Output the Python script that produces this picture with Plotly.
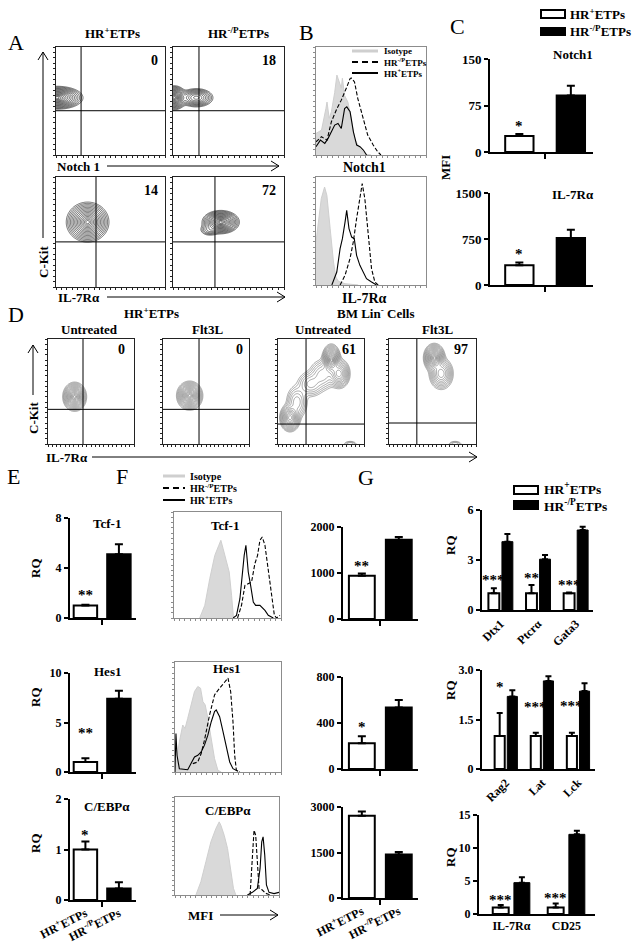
import numpy as np
import plotly.graph_objects as go

W, H = 641, 946
SERIF = "Liberation Serif, Times New Roman, serif"

# ======================= DATA =======================
# Panel C (MFI)
c_notch1 = [26, 91]
c_notch1_err = [3, 16]
c_il7r = [320, 765]
c_il7r_err = [45, 135]
# Panel E (RQ)
e_tcf1 = [1.0, 5.1]
e_tcf1_err = [0.05, 0.8]
e_hes1 = [1.0, 7.4]
e_hes1_err = [0.4, 0.8]
e_cebpa = [1.0, 0.23]
e_cebpa_err = [0.16, 0.12]
# Panel F bars (MFI)
f_tcf1 = [940, 1725]
f_tcf1_err = [50, 60]
f_hes1 = [223, 534]
f_hes1_err = [62, 66]
f_cebpa = [2710, 1430]
f_cebpa_err = [140, 85]
# Panel G (RQ)
g1_genes = ["Dtx1", "Ptcrα", "Gata3"]
g1_hr = [1.0, 1.0, 1.0]
g1_hr_err = [0.3, 0.5, 0.05]
g1_hrp = [4.1, 3.05, 4.8]
g1_hrp_err = [0.46, 0.25, 0.2]
g2_genes = ["Rag2", "Lat", "Lck"]
g2_hr = [1.0, 1.0, 1.0]
g2_hr_err = [0.7, 0.1, 0.1]
g2_hrp = [2.2, 2.67, 2.36]
g2_hrp_err = [0.19, 0.14, 0.24]
g3_genes = ["IL-7Rα", "CD25"]
g3_hr = [1.0, 1.0]
g3_hr_err = [0.36, 0.6]
g3_hrp = [4.75, 12.07]
g3_hrp_err = [0.8, 0.55]

group_labels = ["HR<sup>+</sup>ETPs", "HR<sup>-/P</sup>ETPs"]

# Flow cytometry populations: (centre x, centre y, sd x, sd y, weight) in % of axis
popsA = [
    [(1, 53, 8.5, 3.8, 1.0)],
    [(1, 53, 4.0, 4.0, 1.0), (21, 53, 6.0, 3.4, 0.45)],
    [(29, 59, 7.0, 6.5, 1.0)],
    [(43, 59, 6.0, 3.8, 1.0), (33, 52, 4.0, 2.5, 0.12)],
]
gatesA_x = [23, 23.4, 36.7, 37.8]
gatesA_y = [41, 41, 41, 41]
quadA = ["0", "18", "14", "72"]

popsD = [
    [(31, 45, 5.0, 5.0, 1.0)],
    [(31, 46, 5.5, 5.0, 1.0)],
    [(62, 80, 4.0, 5.5, 1.0), (71, 67, 5.0, 5.5, 0.6), (14, 25, 4.5, 5.0, 0.8),
     (22, 40, 5.5, 7.0, 0.22), (38, 57, 7.0, 5.5, 0.2), (52, 66, 7.0, 6.5, 0.22),
     (84, 0, 4.0, 1.5, 0.08)],
    [(52, 82, 4.5, 5.0, 1.0), (60, 67, 5.5, 6.0, 0.5), (76, 0, 4.0, 1.5, 0.08)],
]
gatesD_x = [40.7, 41.9, 32.6, 32.0]
gatesD_y = [33, 33, 19, 20]
quadD = ["0", "0", "61", "97"]

# Histograms (x: % of channel range, y: % of max)
bN_iso_x = [0, 5, 9, 10, 12, 14, 17, 19, 20, 22, 23, 24, 26, 29, 32, 35, 40, 43, 46, 50]
bN_iso_y = [20, 23, 43, 49, 34, 40, 58, 74, 71, 65, 62, 71, 55, 49, 34, 15, 6, 2.5, 0.6, 0]
bN_hr_x = [0, 4, 8, 11, 14, 17, 20, 23, 26, 28, 31, 34, 37, 40, 43, 46]
bN_hr_y = [7.7, 13.8, 10.8, 15.4, 21.5, 27.7, 29.2, 24.6, 43, 44.6, 40, 21.5, 9.2, 7.7, 4.6, 0]
bN_hrp_x = [0, 5, 10, 14, 19, 23, 28, 31, 32, 35, 38, 43, 47, 52, 56, 59]
bN_hrp_y = [12.3, 16.9, 13.8, 30.8, 43, 50.8, 63, 70.8, 71.4, 67.7, 52.3, 33.8, 18.5, 9.2, 3.1, 0]

bI_iso_x = [0, 2.4, 4.8, 7.8, 9.9, 12.9, 15.9, 18, 20.4, 26.4, 38.4]
bI_iso_y = [40, 58, 80, 90.7, 83, 52, 21.3, 7.4, 3.4, 1.2, 0]
bI_hr_x = [14.4, 18.9, 21.9, 24, 26.4, 27.9, 30, 32.4, 34.8, 36.9, 39.9, 42.9, 45.9, 50.5, 55]
bI_hr_y = [0, 12, 33.6, 42.9, 58.3, 69.1, 52.2, 44.4, 42.9, 27.5, 18.2, 12, 5.9, 2.8, 0]
bI_hrp_x = [21.9, 26.4, 30.9, 33.9, 36.9, 39.9, 42, 44.4, 47.4, 50.5, 53.5, 56.5]
bI_hrp_y = [0, 9, 24.4, 39.8, 61.4, 83, 93.8, 80, 46, 15, 2.8, 0]

fT_iso_x = [24, 28.8, 33.4, 38.1, 41.9, 43.8, 45.9, 49, 51.6, 53.8, 55.6]
fT_iso_y = [0, 12, 37, 59, 68.6, 73.3, 65.4, 54.4, 43.4, 21.4, 0]
fT_hr_x = [55.3, 58.4, 61.6, 63.8, 65.6, 67.2, 69.4, 71.6, 74.1, 76.3, 80.3, 85, 88.1, 92.8]
fT_hr_y = [0, 2.5, 18.2, 43.4, 59.1, 68.6, 43.4, 30.8, 15.1, 11.9, 11.9, 7.2, 2.5, 0]
fT_hrp_x = [59.4, 63.1, 66.3, 69.4, 72.5, 75.6, 78.1, 80.3, 82.5, 85, 88.1, 91.3, 93.8, 95.9, 99]
fT_hrp_y = [0, 12, 30.8, 32.4, 34, 51.3, 59.1, 73.3, 76.4, 68.6, 43.4, 18.2, 2.5, 0, 2.5]

fH_iso_x = [0, 2.5, 4.1, 7.3, 9.5, 12, 15.2, 18.4, 21.5, 24.1, 26.3, 28.5, 31, 34.2, 37.3, 40.5, 43.7]
fH_iso_y = [0, 18.3, 27.4, 42.7, 39.6, 48.8, 61, 73.2, 77.7, 76.2, 64, 61, 48.8, 30.5, 12.2, 1.5, 0]
fH_hr_x = [0, 0.9, 1.9, 4.1, 12, 15.2, 18.4, 21.5, 24.7, 27.8, 31, 34.2, 37.3, 38.9, 42.1, 45.3, 48.4, 51.6, 54.7, 59.5]
fH_hr_y = [0, 35, 15.2, 3, 2.1, 7.6, 13.7, 15.2, 18.3, 24.4, 33.5, 45.7, 54.9, 56.4, 50.3, 36.6, 24.4, 9.1, 3, 0.6]
fH_hrp_x = [16.8, 21.5, 24.7, 27.8, 32.6, 37.3, 42.1, 46.8, 50, 52.5, 54.7, 56.3, 57.9, 61.1]
fH_hrp_y = [7.6, 9.1, 16.8, 29, 51.8, 70.1, 76.2, 82.3, 85.4, 73.2, 45.7, 15.2, 1.5, 0]

fC_iso_x = [20.1, 24.9, 29.7, 34.5, 39.3, 42.5, 44.1, 47.3, 50.5, 53.7, 56.2, 58.5]
fC_iso_y = [0, 13.6, 33.9, 54.2, 67.8, 74.6, 71.2, 61, 47.5, 27.1, 6.8, 0]
fC_hrp_x = [72.2, 73.5, 74.8, 76, 77.6, 79.2, 80.8, 84, 87.2, 92]
fC_hrp_y = [0, 23.7, 54.2, 66.1, 61, 27.1, 6.8, 5.1, 1.7, 0]
fC_hr_x = [69.6, 74.4, 79.2, 81.8, 83.4, 84.7, 86.3, 87.9, 90.4, 95.2, 100]
fC_hr_y = [0, 2.7, 6.8, 27.1, 54.2, 59.3, 40.7, 10.2, 2.7, 1.4, 2.7]

# ======================= HELPERS =======================
def xd(x0, x1):
    return [x0 / W, x1 / W]

def yd(y0, y1):
    return [1 - y1 / H, 1 - y0 / H]

def px(x):
    return x / W

def py(y):
    return 1 - y / H

layout = {}
traces = []
shapes = []
annotations = []
axn = [0]

def make_axes(box, xr, yr, xkw=None, ykw=None):
    axn[0] += 1
    n = axn[0]
    s = "" if n == 1 else str(n)
    x0, y0, x1, y1 = box
    xa = dict(domain=xd(x0, x1), range=xr, anchor="y" + s, showgrid=False,
              zeroline=False, fixedrange=True, automargin=False)
    ya = dict(domain=yd(y0, y1), range=yr, anchor="x" + s, showgrid=False,
              zeroline=False, fixedrange=True, automargin=False)
    xa.update(xkw or {})
    ya.update(ykw or {})
    layout["xaxis" + s] = xa
    layout["yaxis" + s] = ya
    return "x" + s, "y" + s

def ann(text, x, y, size=13, bold=True, angle=0, xanchor="center", yanchor="middle",
        xref="paper", yref="paper", color="black"):
    if xref == "paper":
        x = px(x)
    if yref == "paper":
        y = py(y)
    annotations.append(dict(text=text, x=x, y=y, xref=xref, yref=yref, showarrow=False,
                            textangle=angle, xanchor=xanchor, yanchor=yanchor,
                            font=dict(family=SERIF, size=size, color=color,
                                      weight="bold" if bold else "normal")))

def pline(x0, y0, x1, y1, color="black", width=1, dash="solid"):
    shapes.append(dict(type="line", xref="paper", yref="paper", x0=px(x0), y0=py(y0),
                       x1=px(x1), y1=py(y1), line=dict(color=color, width=width, dash=dash)))

def harrow(x0, x1, y):
    pline(x0, y, x1, y)
    shapes.append(dict(type="path", xref="paper", yref="paper",
                       path=f"M {px(x1-8)},{py(y-5)} L {px(x1)},{py(y)} L {px(x1-8)},{py(y+5)}",
                       line=dict(color="black", width=1)))

def varrow(x, y0, y1):
    pline(x, y0, x, y1)
    shapes.append(dict(type="path", xref="paper", yref="paper",
                       path=f"M {px(x-5)},{py(y1+8)} L {px(x)},{py(y1)} L {px(x+5)},{py(y1+8)}",
                       line=dict(color="black", width=1)))

def flow_kw(color):
    return dict(showline=True, mirror=True, linecolor=color, linewidth=1, ticks="outside",
                ticklen=2, tickwidth=1, tickcolor=color, tickmode="array",
                tickvals=list(range(0, 101, 5)), showticklabels=False)

grid = np.linspace(0, 100, 161)

def contour_plot(box, pops, gx, gy, color, lw, qtext, qpos):
    xa, ya = make_axes(box, [0, 100], [0, 100], flow_kw("#222222"), flow_kw("#222222"))
    X, Y = np.meshgrid(grid, grid)
    Z = np.zeros_like(X)
    for cx, cy, sx, sy, w in pops:
        Z += w * np.exp(-((X - cx) ** 2 / (2 * sx ** 2) + (Y - cy) ** 2 / (2 * sy ** 2)))
    Z = np.sqrt(-np.log(Z / Z.max() + 1e-12))
    traces.append(go.Contour(x=grid, y=grid, z=Z, xaxis=xa, yaxis=ya, showscale=False,
                             contours=dict(start=0.16, end=2.1, size=0.13, coloring="lines"),
                             colorscale=[[0, color], [1, color]], line=dict(width=lw),
                             hoverinfo="skip"))
    shapes.append(dict(type="line", xref=xa, yref=ya, x0=gx, x1=gx, y0=0, y1=100,
                       line=dict(color="black", width=1)))
    shapes.append(dict(type="line", xref=xa, yref=ya, x0=0, x1=100, y0=gy, y1=gy,
                       line=dict(color="black", width=1)))
    ann(qtext, qpos[0], qpos[1], size=14, xanchor="right")

def hist_plot(box, curves, title=None, tpos=None):
    kw = flow_kw("#8c8c8c")
    xa, ya = make_axes(box, [0, 100], [0, 100], kw, dict(kw))
    iso, hrp, hr = curves
    traces.append(go.Scatter(x=iso[0], y=iso[1], xaxis=xa, yaxis=ya, mode="lines",
                             fill="tozeroy", fillcolor="#d9d9d9",
                             line=dict(color="#cfcfcf", width=1), hoverinfo="skip"))
    traces.append(go.Scatter(x=hr[0], y=hr[1], xaxis=xa, yaxis=ya, mode="lines",
                             line=dict(color="black", width=1.1), hoverinfo="skip"))
    traces.append(go.Scatter(x=hrp[0], y=hrp[1], xaxis=xa, yaxis=ya, mode="lines",
                             line=dict(color="black", width=1.1, dash="4px,2px"),
                             hoverinfo="skip"))
    if title:
        ann(title, tpos[0], tpos[1], size=13)

def bar_y_kw(tv, tt, size=12):
    return dict(showline=True, linecolor="black", linewidth=2, ticks="outside", ticklen=4,
                tickwidth=2, tickcolor="black", tickmode="array", tickvals=tv, ticktext=tt,
                tickfont=dict(family=SERIF, size=size, color="black", weight="bold"))

def bar_x_kw(tv=None, tt=None, mid=True, angle=0, size=12):
    d = dict(showline=True, linecolor="black", linewidth=2, ticks="", tickmode="array",
             tickvals=tv or [], ticktext=tt or [], tickangle=angle,
             tickfont=dict(family=SERIF, size=size, color="black", weight="bold"))
    if mid:
        d["minor"] = dict(tickmode="array", tickvals=[0.5], ticks="outside", ticklen=5,
                          tickwidth=2, tickcolor="black")
    return d

def star(text, x, y, xa, ya):
    ann(text, x, y, size=15, bold=True, xref=xa, yref=ya, color="#000000")

def two_bar(box, xr, yr, tv, tt, vals, errs, bw, stars=None, title=None, tpos=None,
            xlabels=False, ysize=12):
    xkw = bar_x_kw([0, 1] if xlabels else [], group_labels if xlabels else [], True,
                   -27 if xlabels else 0)
    xa, ya = make_axes(box, xr, yr, xkw, bar_y_kw(tv, tt, ysize))
    traces.append(go.Bar(x=[0, 1], y=vals, width=bw, xaxis=xa, yaxis=ya,
                         marker=dict(color=["white", "black"], line=dict(color="black", width=2)),
                         error_y=dict(type="data", symmetric=False, array=errs, arrayminus=[0, 0],
                                      color="black", thickness=2, width=4),
                         hoverinfo="skip", cliponaxis=False))
    if stars:
        for sx, sy, st in stars:
            star(st, sx, sy, xa, ya)
    if title:
        ann(title, tpos[0], tpos[1], size=13)
    return xa, ya

def group_bar(box, xr, yr, tv, tt, genes, hr, hr_e, hrp, hrp_e, bw, offs, angle, stars):
    xa, ya = make_axes(box, xr, yr,
                       bar_x_kw(list(range(len(genes))), genes, False, angle, 12),
                       bar_y_kw(tv, tt, 12))
    xs = list(range(len(genes)))
    traces.append(go.Bar(x=xs, y=hr, width=bw, offset=offs[0], xaxis=xa, yaxis=ya,
                         marker=dict(color="white", line=dict(color="black", width=2)),
                         error_y=dict(type="data", symmetric=False, array=hr_e,
                                      arrayminus=[0] * len(xs), color="black", thickness=2, width=3),
                         hoverinfo="skip", cliponaxis=False))
    traces.append(go.Bar(x=xs, y=hrp, width=bw, offset=offs[1], xaxis=xa, yaxis=ya,
                         marker=dict(color="black", line=dict(color="black", width=1)),
                         error_y=dict(type="data", symmetric=False, array=hrp_e,
                                      arrayminus=[0] * len(xs), color="black", thickness=2, width=3),
                         hoverinfo="skip", cliponaxis=False))
    for i, (sy, st) in enumerate(stars):
        if st:
            star(st, i + offs[0] + bw / 2, sy, xa, ya)
    return xa, ya

# ======================= PANEL A =======================
ann("A", 16, 42, size=22, bold=False)
ann("HR<sup>+</sup>ETPs", 112, 33, size=13)
ann("HR<sup>-/P</sup>ETPs", 238, 33, size=13)
boxesA = [(56, 47, 165, 155), (173, 47, 284, 155), (56, 177, 165, 287), (173, 177, 284, 287)]
qposA = [(160, 60), (278, 60), (160, 190), (278, 190)]
for i in range(4):
    contour_plot(boxesA[i], popsA[i], gatesA_x[i], gatesA_y[i], "#111111", 0.6, quadA[i], qposA[i])
ann("Notch 1", 78, 166, size=13)
harrow(107, 279, 166)
ann("IL-7Rα", 79, 297, size=13)
harrow(107, 285, 297)
varrow(43, 238, 52)
ann("C-Kit", 43, 262, size=13, angle=-90)

# ======================= PANEL B =======================
ann("B", 306, 33, size=22, bold=False)
hist_plot((316, 47, 426, 155), [(bN_iso_x, bN_iso_y), (bN_hrp_x, bN_hrp_y), (bN_hr_x, bN_hr_y)])
hist_plot((316, 177, 426, 285), [(bI_iso_x, bI_iso_y), (bI_hrp_x, bI_hrp_y), (bI_hr_x, bI_hr_y)])
ann("Notch1", 364, 167, size=14)
ann("IL-7Rα", 364, 298, size=14)
pline(352, 51, 378, 51, color="#cfcfcf", width=3)
ann("Isotype", 382, 51, size=9, xanchor="left")
pline(352, 62, 378, 62, width=2, dash="6px,4px")
ann("HR<sup>-/P</sup>ETPs", 382, 62, size=9, xanchor="left")
pline(352, 73, 378, 73, width=2)
ann("HR<sup>+</sup>ETPs", 382, 73, size=9, xanchor="left")

# ======================= PANEL C =======================
ann("C", 457, 27, size=22, bold=False)
shapes.append(dict(type="rect", xref="paper", yref="paper", x0=px(541), x1=px(565),
                   y0=py(18), y1=py(10), line=dict(color="black", width=2), fillcolor="white"))
shapes.append(dict(type="rect", xref="paper", yref="paper", x0=px(541), x1=px(565),
                   y0=py(35), y1=py(28), line=dict(color="black", width=2), fillcolor="black"))
ann("HR<sup>+</sup>ETPs", 568, 14, size=13, xanchor="left")
ann("HR<sup>-/P</sup>ETPs", 568, 31, size=13, xanchor="left")
two_bar((490, 59, 593, 152), [-0.57, 1.43], [0, 150], [0, 75, 150], ["0", "75", "150"],
        c_notch1, c_notch1_err, 0.55, stars=[(0, 42, "*")], title="Notch1", tpos=(573, 55),
        ysize=13)
two_bar((490, 193, 593, 285), [-0.57, 1.43], [0, 1500], [0, 750, 1500], ["0", "750", "1500"],
        c_il7r, c_il7r_err, 0.55, stars=[(0, 500, "*")], title="IL-7Rα", tpos=(573, 194),
        ysize=13)
ann("MFI", 445, 168, size=13, angle=-90)

# ======================= PANEL D =======================
ann("D", 16, 314, size=22, bold=False)
ann("HR<sup>+</sup>ETPs", 151, 313, size=13)
ann("BM Lin<sup>-</sup> Cells", 375, 313, size=13)
for t, x in [("Untreated", 89), ("Flt3L", 207), ("Untreated", 323), ("Flt3L", 437)]:
    ann(t, x, 329, size=13)
boxesD = [(48, 339, 134, 444), (163, 339, 249, 444), (278, 339, 364, 444), (389, 339, 476, 444)]
qposD = [(127, 349), (245, 349), (358, 349), (470, 349)]
for i in range(4):
    contour_plot(boxesD[i], popsD[i], gatesD_x[i], gatesD_y[i], "#555555", 0.5, quadD[i], qposD[i])
varrow(33, 395, 345)
ann("C-Kit", 33, 418, size=13, angle=-90)
ann("IL-7Rα", 67, 457, size=13)
harrow(92, 477, 457)

# ======================= PANEL E =======================
ann("E", 13, 476, size=22, bold=False)
two_bar((70, 518, 136, 618), [-0.46, 1.51], [0, 8], [0, 4, 8], ["0", "4", "8"],
        e_tcf1, e_tcf1_err, 0.7, stars=[(0, 1.84, "**")], title="Tcf-1", tpos=(107, 523))
two_bar((70, 673, 136, 772), [-0.46, 1.51], [0, 10], [0, 5, 10], ["0", "5", "10"],
        e_hes1, e_hes1_err, 0.7, stars=[(0, 3.9, "**")], title="Hes1", tpos=(107, 671))
two_bar((70, 799, 136, 900), [-0.46, 1.51], [0, 2], [0, 1, 2], ["0", "1", "2"],
        e_cebpa, e_cebpa_err, 0.7, stars=[(0, 1.29, "*")], title="C/EBPα", tpos=(107, 806),
        xlabels=True)
for y in [568, 697, 843]:
    ann("RQ", 35, y, size=13, angle=-90)

# ======================= PANEL F =======================
ann("F", 122, 476, size=22, bold=False)
pline(163, 476, 185, 476, color="#cfcfcf", width=3)
ann("Isotype", 188, 476, size=10, xanchor="left")
pline(163, 488, 185, 488, width=2, dash="6px,4px")
ann("HR<sup>-/P</sup>ETPs", 188, 488, size=10, xanchor="left")
pline(163, 500, 185, 500, width=2)
ann("HR<sup>+</sup>ETPs", 188, 500, size=10, xanchor="left")
hist_plot((174, 512, 281, 618), [(fT_iso_x, fT_iso_y), (fT_hrp_x, fT_hrp_y), (fT_hr_x, fT_hr_y)],
          "Tcf-1", (225, 525))
hist_plot((175, 662, 281, 772), [(fH_iso_x, fH_iso_y), (fH_hrp_x, fH_hrp_y), (fH_hr_x, fH_hr_y)],
          "Hes1", (226, 668))
hist_plot((175, 797, 279, 895), [(fC_iso_x, fC_iso_y), (fC_hrp_x, fC_hrp_y), (fC_hr_x, fC_hr_y)],
          "C/EBPα", (228, 810))
ann("MFI", 201, 915, size=13)
harrow(220, 278, 915)
two_bar((343, 527, 418, 619), [-0.51, 1.52], [0, 2000], [0, 1000, 2000], ["0", "1000", "2000"],
        f_tcf1, f_tcf1_err, 0.7, stars=[(0, 1150, "**")])
two_bar((343, 677, 418, 769), [-0.51, 1.52], [0, 800], [0, 400, 800], ["0", "400", "800"],
        f_hes1, f_hes1_err, 0.7, stars=[(0, 365, "*")])
two_bar((343, 807, 418, 898), [-0.51, 1.52], [0, 3000], [0, 1500, 3000], ["0", "1500", "3000"],
        f_cebpa, f_cebpa_err, 0.7, stars=[(0, 3230, "*")], xlabels=True)

# ======================= PANEL G =======================
ann("G", 366, 478, size=22, bold=False)
shapes.append(dict(type="rect", xref="paper", yref="paper", x0=px(514), x1=px(538),
                   y0=py(494), y1=py(486), line=dict(color="black", width=2), fillcolor="white"))
shapes.append(dict(type="rect", xref="paper", yref="paper", x0=px(514), x1=px(538),
                   y0=py(509), y1=py(501), line=dict(color="black", width=2), fillcolor="black"))
ann("HR<sup>+</sup>ETPs", 542, 489, size=13.5, xanchor="left")
ann("HR<sup>-/P</sup>ETPs", 542, 505, size=13.5, xanchor="left")
group_bar((482, 510, 593, 610), [-0.49, 2.46], [0, 6], [0, 3, 6], ["0", "3", "6"],
          g1_genes, g1_hr, g1_hr_err, g1_hrp, g1_hrp_err, 0.29, (-0.32, 0.04), -45,
          [(1.8, "***"), (1.9, "**"), (1.5, "***")])
group_bar((482, 670, 595, 769), [-0.66, 2.47], [0, 3], [0, 1.5, 3], ["0", "1.5", "3.0"],
          g2_genes, g2_hr, g2_hr_err, g2_hrp, g2_hrp_err, 0.28, (-0.31, 0.04), -45,
          [(2.48, "*"), (1.88, "***"), (1.9, "***")])
group_bar((479, 815, 595, 914), [-0.59, 1.52], [0, 15], [0, 5, 10, 15], ["0", "5", "10", "15"],
          g3_genes, g3_hr, g3_hr_err, g3_hrp, g3_hrp_err, 0.29, (-0.34, 0.045), 0,
          [(2.1, "***"), (2.4, "***")])
for y in [545, 690, 857]:
    ann("RQ", 450, y, size=13, angle=-90)

# ======================= FIGURE =======================
fig = go.Figure(data=traces)
fig.update_layout(**layout)
fig.update_layout(width=W, height=H, margin=dict(l=0, r=0, t=0, b=0, pad=0, autoexpand=False),
                  paper_bgcolor="white", plot_bgcolor="white", showlegend=False,
                  barmode="overlay", shapes=shapes, annotations=annotations,
                  font=dict(family=SERIF, color="black"))
fig.write_html("out.html", config={"displayModeBar": False, "staticPlot": True},
               post_script="document.body.style.margin='0px';document.body.style.padding='0px';")
